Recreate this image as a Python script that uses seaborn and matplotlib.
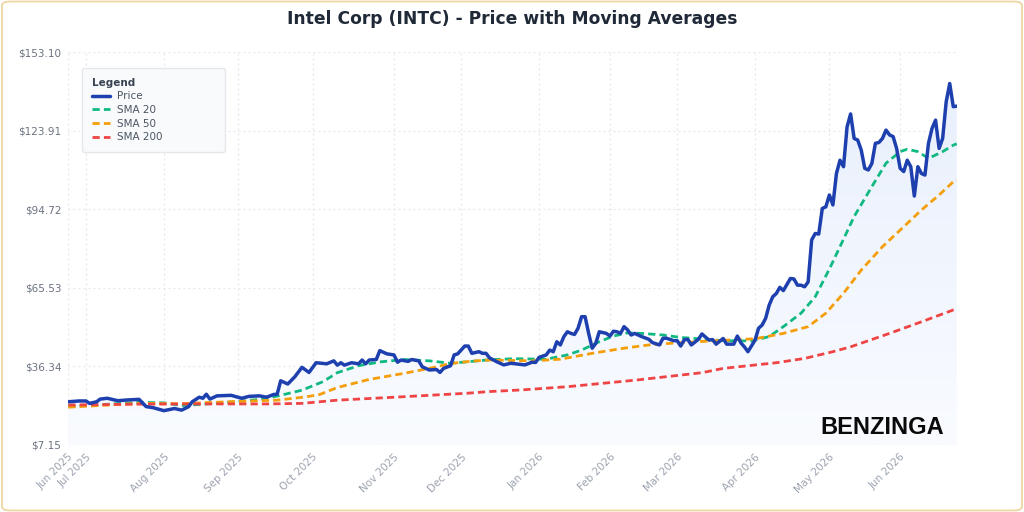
import numpy as np
import pandas as pd
import matplotlib
matplotlib.use('Agg')
import matplotlib.pyplot as plt
from matplotlib.patches import FancyBboxPatch
from matplotlib.colors import LinearSegmentedColormap
import seaborn as sns

# trading calendar of the chart (one year of sessions)
start_date = '2025-06-24'
end_date = '2026-06-24'
market_holidays = ['2025-07-04', '2025-09-01', '2025-11-27', '2025-12-25', '2026-01-01',
                   '2026-01-19', '2026-02-16', '2026-04-03', '2026-05-25', '2026-06-19']

# price (session number since start, close)
price_day = [0, 3, 5, 6, 8, 9, 11, 14, 17, 20, 22, 24, 27, 30, 32, 34, 35, 37, 38, 39,
             40, 42, 46, 49, 51, 54, 56, 58, 59, 60, 62, 64, 66, 68, 70, 73, 75, 76, 77, 78,
             80, 82, 83, 84, 85, 87, 88, 90, 92, 93, 94, 96, 97, 99, 100, 102, 104, 105, 106, 108,
             109, 110, 112, 113, 114, 116, 117, 118, 119, 121, 123, 125, 127, 129, 131, 132, 133, 135, 136, 137,
             138, 139, 140, 141, 142, 143, 144, 145, 146, 147, 148, 149, 150, 152, 153, 154, 155, 156, 157, 158,
             159, 160, 162, 164, 165, 167, 168, 169, 171, 172, 173, 174, 175, 176, 178, 179, 181, 182, 183, 185,
             186, 188, 189, 190, 191, 192, 194, 195, 196, 197, 198, 199, 200, 201, 202, 204, 205, 206, 207, 208,
             209, 210, 211, 212, 213, 214, 215, 216, 217, 218, 219, 220, 221, 222, 223, 224, 225, 226, 227, 228,
             229, 230, 231, 232, 233, 234, 235, 236, 237, 238, 239, 240, 241, 242, 243, 244, 245, 246, 247, 248,
             249, 250, 251]
price = [23.2, 23.5, 23.5, 22.6, 23.2, 24.2, 24.5, 23.6, 23.9, 24.1, 21.4, 21.0, 19.9, 20.7, 20.1, 21.4, 23.2, 24.9, 24.5, 26.0,
         24.2, 25.4, 25.6, 24.5, 25.2, 25.4, 24.9, 25.9, 26.0, 31.0, 29.8, 32.5, 36.0, 34.1, 37.7, 37.3, 38.4, 36.8, 37.7, 36.8,
         37.7, 37.3, 38.7, 37.3, 38.7, 38.9, 42.2, 41.0, 40.6, 37.9, 38.7, 38.2, 38.9, 38.4, 36.2, 35.0, 35.2, 34.1, 35.6, 36.6,
         40.6, 41.0, 43.9, 43.9, 41.2, 41.8, 41.2, 41.2, 39.5, 38.1, 36.9, 37.5, 37.2, 36.9, 37.9, 37.8, 39.7, 40.6, 42.4, 41.8,
         45.5, 44.3, 47.4, 49.2, 48.6, 48.2, 50.5, 54.8, 54.8, 48.6, 43.1, 44.9, 49.2, 48.6, 47.6, 49.4, 49.2, 48.6, 51.1, 49.9,
         48.0, 48.6, 47.4, 46.4, 45.2, 44.3, 46.8, 46.8, 45.9, 45.9, 43.9, 46.2, 46.4, 44.3, 46.4, 48.4, 46.1, 46.3, 44.6, 46.7,
         44.6, 44.6, 47.6, 45.1, 43.6, 41.8, 46.1, 50.5, 51.7, 54.2, 59.1, 62.2, 63.4, 65.7, 64.5, 69.0, 68.8, 66.5, 66.5, 65.9,
         67.7, 83.3, 85.7, 85.5, 95.0, 95.6, 100.0, 96.3, 108.0, 112.9, 110.5, 125.3, 130.1, 121.0, 120.4, 116.7, 109.9, 109.3, 111.7, 119.2,
         119.5, 121.0, 124.1, 122.3, 121.7, 117.3, 109.9, 108.7, 112.9, 110.5, 99.6, 110.5, 108.0, 107.4, 119.2, 124.7, 127.8, 117.3, 121.0, 134.6,
         141.4, 132.8, 133.0]

sma20_day = [0, 20, 27, 32, 37, 47, 54, 59, 66, 72, 76, 82, 88, 95, 102, 108, 114, 119, 126, 135,
             141, 145, 150, 154, 158, 162, 168, 173, 179, 185, 193, 198, 202, 207, 211, 215, 218, 222, 227, 231,
             235, 237, 240, 243, 247, 250, 251]
sma20 = [21.4, 23.0, 22.8, 21.8, 22.2, 23.2, 24.1, 25.3, 27.5, 30.7, 34.0, 36.6, 38.0, 38.9, 38.4, 37.5, 38.2, 38.8, 39.2, 39.0,
         40.6, 42.4, 45.5, 47.6, 48.8, 48.6, 48.0, 47.1, 46.5, 45.9, 45.8, 47.4, 51.1, 56.1, 62.2, 72.5, 80.8, 92.0, 103.1, 111.8,
         116.1, 117.0, 116.1, 113.6, 116.1, 118.5, 119.0]

sma50_day = [0, 20, 32, 47, 59, 67, 71, 76, 85, 95, 102, 108, 114, 119, 131, 139, 148, 157, 164, 170,
             179, 189, 194, 202, 209, 214, 219, 224, 230, 236, 241, 246, 250, 251]
sma50 = [21.2, 22.6, 22.5, 23.3, 23.8, 25.0, 25.9, 28.5, 31.5, 33.8, 35.6, 37.4, 38.3, 38.7, 38.4, 39.0, 41.2, 43.1, 44.3, 44.9,
         45.6, 46.3, 46.6, 48.6, 51.1, 56.1, 63.5, 72.1, 80.8, 88.2, 94.4, 100.0, 104.9, 105.5]

sma200_day = [0, 18, 37, 56, 66, 76, 95, 113, 119, 128, 141, 160, 179, 185, 200, 208, 216, 221, 232, 241, 250, 251]
sma200 = [22.0, 22.3, 22.4, 22.4, 22.6, 23.8, 25.1, 26.4, 27.0, 27.6, 28.8, 31.2, 34.0, 35.6, 37.7, 39.3, 41.8, 43.6, 48.6, 52.9, 57.3, 57.6]

y_ticks = [7.15, 36.34, 65.53, 94.72, 123.91, 153.10]

sessions = pd.bdate_range(start_date, end_date, freq='C', holidays=market_holidays)
session_no = pd.Series(np.arange(len(sessions)), index=sessions)
month_first = session_no.groupby(sessions.to_period('M')).first()
month_labels = [p.strftime('%b %Y') for p in month_first.index]

df_price = pd.DataFrame({'day': price_day, 'value': price})
df_20 = pd.DataFrame({'day': sma20_day, 'value': sma20})
df_50 = pd.DataFrame({'day': sma50_day, 'value': sma50})
df_200 = pd.DataFrame({'day': sma200_day, 'value': sma200})

sns.set_theme(style='white')
plt.rcParams['font.family'] = ['DejaVu Sans']

fig = plt.figure(figsize=(10.24, 5.12), dpi=100)
fig.patches.append(FancyBboxPatch((0.002, 0.003), 0.996, 0.994,
                                  boxstyle='round,pad=0,rounding_size=0.008',
                                  transform=fig.transFigure, facecolor='white',
                                  edgecolor='#f0d9a8', lw=1.4, zorder=-10))
ax = fig.add_axes([68.3 / 1024, 1 - 445 / 512, (956.8 - 68.3) / 1024, 393 / 512])
ax.set_facecolor('none')

x_end = len(sessions) - 1
y_min, y_max = y_ticks[0], y_ticks[-1]

# soft gradient under the price line
fill_cmap = LinearSegmentedColormap.from_list('fill', ['#f9fbff', '#e9f0fc'])
grad = np.linspace(0, 1, 256).reshape(-1, 1)
img = ax.imshow(grad, extent=[0, x_end, y_min, max(price)], origin='lower',
                aspect='auto', cmap=fill_cmap, zorder=1)
poly = ax.fill_between(df_price['day'], df_price['value'], y_min, color='none', lw=0)
img.set_clip_path(poly.get_paths()[0], ax.transData)

sma_dash = (2.6, 1.5)
sns.lineplot(data=df_price, x='day', y='value', ax=ax, color='#1e40af', lw=2.5,
             label='Price', zorder=5)
sns.lineplot(data=df_20, x='day', y='value', ax=ax, color='#10b981', lw=2.0,
             label='SMA 20', zorder=4).lines[-1].set_dashes(sma_dash)
sns.lineplot(data=df_50, x='day', y='value', ax=ax, color='#f59e0b', lw=2.0,
             label='SMA 50', zorder=4).lines[-1].set_dashes(sma_dash)
sns.lineplot(data=df_200, x='day', y='value', ax=ax, color='#ef4444', lw=2.0,
             label='SMA 200', zorder=4).lines[-1].set_dashes(sma_dash)

ax.set_xlim(0, x_end)
ax.set_ylim(y_min, y_max)
ax.set_xticks(month_first.values)
ax.set_xticklabels(month_labels, rotation=45, ha='right', rotation_mode='anchor',
                   fontsize=7.5, color='#9ca3af')
ax.set_yticks(y_ticks)
ax.set_yticklabels([f'${v:.2f}' for v in y_ticks], fontsize=7.5, color='#6b7280')
ax.tick_params(axis='both', length=0, pad=5)
ax.grid(True, color='#e5e7eb', linestyle=(0, (1.5, 2.5)), lw=0.9)
ax.set_axisbelow(True)
for s in ax.spines.values():
    s.set_visible(False)
ax.set_xlabel('')
ax.set_ylabel('')

leg = ax.legend(title='Legend', loc='upper left', bbox_to_anchor=(0.0098, 0.962, 0.172, 0.01),
                mode='expand', fontsize=7.5, title_fontproperties={'weight': 'bold', 'size': 7.5},
                alignment='left', frameon=True, fancybox=True, borderpad=0.9,
                labelspacing=0.35, handlelength=1.8, handletextpad=0.6)
leg.get_frame().set_facecolor('#f9fafb')
leg.get_frame().set_edgecolor('#e5e7eb')
leg.get_frame().set_alpha(1)
leg.get_title().set_color('#374151')
for t in leg.get_texts():
    t.set_color('#4b5563')

fig.text(0.5, 1 - 19 / 512, 'Intel Corp (INTC) - Price with Moving Averages', ha='center',
         va='center', fontsize=12.3, fontweight='bold', color='#1f2937')
fig.text(944 / 1024, 1 - 427 / 512, 'BENZINGA', ha='right', va='center', fontsize=17,
         fontweight='bold', family='Liberation Sans', color='#0a0a0a')

fig.savefig('out.png', dpi=100)
